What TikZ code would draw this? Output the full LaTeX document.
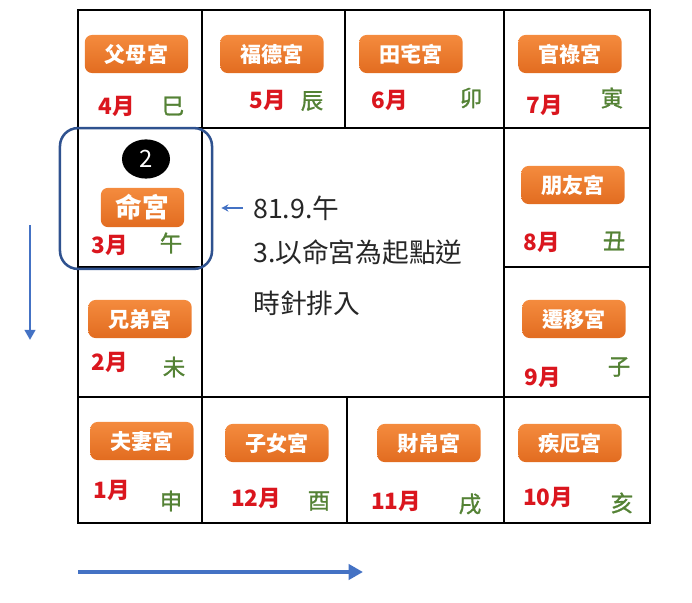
\documentclass[tikz,border=0pt]{standalone}
\usepackage{fontspec}
\setmainfont{Noto Sans CJK TC}
\newfontfamily\branchfont[FakeBold=1.2]{Noto Sans CJK TC}
\usepackage{xcolor}
\usepackage{tikz}
\usetikzlibrary{arrows.meta,positioning,shapes.geometric,calc}

\definecolor{orangetop}{RGB}{244,139,62}
\definecolor{orangebot}{RGB}{226,108,32}
\definecolor{monthred}{RGB}{218,22,30}
\definecolor{branchgreen}{RGB}{84,130,53}
\definecolor{arrowblue}{RGB}{68,114,196}
\definecolor{hlblue}{RGB}{47,82,143}
\definecolor{notegray}{RGB}{38,38,38}

\begin{document}
\begin{tikzpicture}[x=0.025cm, y=-0.025cm,
  palace/.style={rectangle, rounded corners=5pt, minimum width=2.58cm, minimum height=0.95cm, top color=orangetop, bottom color=orangebot, text=white, font=\bfseries\fontsize{15}{17}\selectfont, inner sep=0pt},
  bigpalace/.style={palace, minimum width=2.08cm, minimum height=0.98cm, font=\bfseries\fontsize{19}{21}\selectfont},
  month/.style={text=monthred, font=\bfseries\fontsize{16}{18}\selectfont, inner sep=0pt},
  branch/.style={text=branchgreen, font=\branchfont\fontsize{16}{18}\selectfont, inner sep=0pt},
  note/.style={anchor=west, text=notegray, font=\fontsize{19}{22}\selectfont, inner sep=0pt},
  cellline/.style={line width=1.4pt},
  hlbox/.style={rectangle, draw=hlblue, line width=1.8pt, rounded corners=0.45cm, minimum width=3.8cm, minimum height=3.52cm},
  ptr/.style={-{Stealth[length=0.18cm, width=0.18cm]}, draw=arrowblue, line width=0.9pt, shorten <=0.25cm, shorten >=0.2cm},
  downarr/.style={-{Triangle[length=0.25cm, width=0.26cm]}, draw=arrowblue, line width=1.8pt},
  rightarr/.style={-{Triangle[length=0.36cm, width=0.38cm]}, draw=arrowblue, line width=3.3pt}
]
\useasboundingbox (0,0) rectangle (692,603);

% Grid of the twelve palaces
\draw[cellline] (78,10) rectangle (650,523);
\draw[cellline] (78,128) -- (650,128);
\draw[cellline] (78,397) -- (650,397);
\draw[cellline] (78,267) -- (202,267);
\draw[cellline] (504,267) -- (650,267);
\draw[cellline] (202,10) -- (202,523);
\draw[cellline] (504,10) -- (504,523);
\draw[cellline] (345,10) -- (345,128);
\draw[cellline] (347,397) -- (347,523);

% Top row
\node[palace] (fumu) at (136.5,54) {父母宮};
\node[month] (m4) at (117,106) {4月};
\node[branch] (si) at (173,106) {巳};

\node[palace] (fude) at (272,54) {福德宮};
\node[month] (m5) at (268,100) {5月};
\node[branch] (chen) at (312,101) {辰};

\node[palace] (tianzhai) at (411,54) {田宅宮};
\node[month] (m6) at (390,100) {6月};
\node[branch] (mao) at (471,98) {卯};

\node[palace] (guanlu) at (570,54) {官祿宮};
\node[month] (m7) at (545,105) {7月};
\node[branch] (yin) at (612,98) {寅};

% Ming palace, highlighted
\node[ellipse, fill=black, text=white, minimum width=1.2cm, minimum height=0.98cm, inner sep=0pt, font=\fontsize{17}{19}\selectfont] (two) at (146,159) {2};
\node[bigpalace] (ming) at (142.5,207.5) {命宮};
\node[month] (m3) at (110,245) {3月};
\node[branch] (wu) at (171,243) {午};
\node[hlbox] (hl) at (136,198.5) {};

% Right column
\node[palace] (pengyou) at (573,185) {朋友宮};
\node[month] (m8) at (542,242) {8月};
\node[branch] (chou) at (614,241) {丑};

\node[palace] (qianyi) at (574,319) {遷移宮};
\node[month] (m9) at (543,377) {9月};
\node[branch] (zi) at (619,367) {子};

% Left column
\node[palace] (xiongdi) at (140,319) {兄弟宮};
\node[month] (m2) at (110,362) {2月};
\node[branch] (wei) at (174,367) {未};

% Bottom row
\node[palace] (fuqi) at (142,441) {夫妻宮};
\node[month] (m1) at (112,490) {1月};
\node[branch] (shen) at (171,501) {申};

\node[palace] (zinv) at (277,443) {子女宮};
\node[month] (m12) at (256,498) {12月};
\node[branch] (you) at (319,501) {酉};

\node[palace] (caibo) at (429,443) {財帛宮};
\node[month] (m11) at (396,501) {11月};
\node[branch] (xu) at (470,504) {戌};

\node[palace] (jie) at (570,443) {疾厄宮};
\node[month] (m10) at (548,497) {10月};
\node[branch] (hai) at (622,503) {亥};

% Note in the middle
\node[note] (note1) at (253,208) {81.9.午};
\node[note] (note2) at (253,252) {3.以命宮為起點逆};
\node[note] (note3) at (253,303) {時針排入};
\draw[ptr] (note1.west) -- (note1.west -| hl.east);

% Direction arrows
\coordinate (vtop) at (30,225);
\coordinate (vbot) at (30,340);
\draw[downarr] (vtop) -- (vbot);
\coordinate (hleft) at (78,572);
\coordinate (hright) at (363,572);
\draw[rightarr] (hleft) -- (hright);

\end{tikzpicture}
\end{document}
